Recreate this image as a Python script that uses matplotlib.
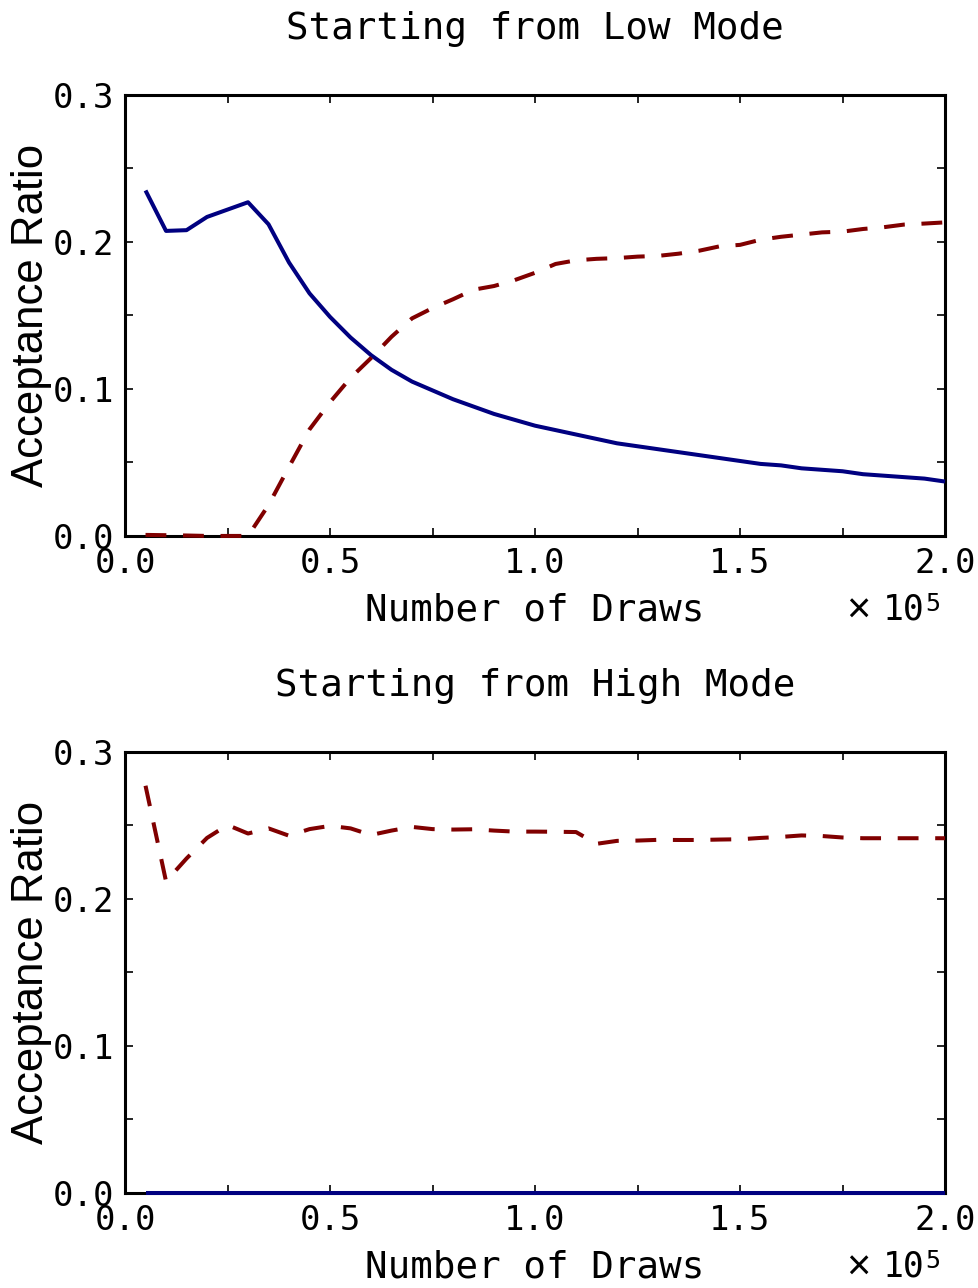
import matplotlib
matplotlib.use("Agg")
import matplotlib.pyplot as plt
from matplotlib.ticker import MultipleLocator, FuncFormatter

plt.rcParams['lines.scale_dashes'] = False

# number of draws
draws = [5000 * i for i in range(1, 41)]

# Starting from Low Mode
low_blue = [0.235, 0.2075, 0.208, 0.217, 0.222, 0.227, 0.212, 0.186, 0.165, 0.149,
            0.135, 0.123, 0.113, 0.105, 0.099, 0.093, 0.088, 0.083, 0.079, 0.075,
            0.072, 0.069, 0.066, 0.063, 0.061, 0.059, 0.057, 0.055, 0.053, 0.051,
            0.049, 0.048, 0.046, 0.045, 0.044, 0.042, 0.041, 0.040, 0.039, 0.037]
low_red = [0.0007, 0.0005, 0.0003, 0.0, 0.0, 0.0, 0.021, 0.047, 0.0725, 0.091,
           0.1075, 0.121, 0.1355, 0.148, 0.155, 0.161, 0.1675, 0.170, 0.174, 0.179,
           0.185, 0.1875, 0.1885, 0.189, 0.190, 0.1905, 0.192, 0.194, 0.197, 0.198,
           0.2015, 0.2035, 0.205, 0.2065, 0.207, 0.2088, 0.210, 0.2118, 0.2125, 0.2133]

# Starting from High Mode
high_blue = [0.0] * 40
high_red = [0.277, 0.212, 0.2275, 0.2415, 0.2503, 0.2445, 0.248, 0.243, 0.2475, 0.2497,
            0.248, 0.2435, 0.2465, 0.249, 0.2475, 0.2472, 0.2474, 0.2465, 0.2458, 0.2458,
            0.2457, 0.2455, 0.2375, 0.2395, 0.2397, 0.2402, 0.2401, 0.2401, 0.2404, 0.2406,
            0.2415, 0.2422, 0.2432, 0.2428, 0.2418, 0.2413, 0.2413, 0.2413, 0.2413, 0.2413]

titles = ["Starting from Low Mode", "Starting from High Mode"]
xlabel = "Number of Draws"
ylabel = "Acceptance Ratio"
scale_times = "×"
scale_text = "10"
scale_exp = "5"

BLUE = '#000080'
RED = '#800000'
MONO = 'DejaVu Sans Mono'
SANS = 'Liberation Sans'

fig = plt.figure(figsize=(9.79, 12.88), dpi=100)
positions = [[0.1277, 0.5839, 0.8376, 0.3424], [0.1277, 0.0738, 0.8376, 0.3424]]
series = [(low_blue, low_red), (high_blue, high_red)]

for pos, (b, r), title in zip(positions, series, titles):
    ax = fig.add_axes(pos)
    ax.plot(draws, b, color=BLUE, lw=2.9, solid_capstyle='butt', clip_on=False, zorder=3)
    ax.plot(draws, r, color=RED, lw=2.9, dashes=(15, 12), clip_on=False, zorder=3)
    ax.set_xlim(0, 200000)
    ax.set_ylim(0, 0.3)
    ax.xaxis.set_major_locator(MultipleLocator(50000))
    ax.xaxis.set_minor_locator(MultipleLocator(25000))
    ax.yaxis.set_major_locator(MultipleLocator(0.1))
    ax.yaxis.set_minor_locator(MultipleLocator(0.05))
    ax.xaxis.set_major_formatter(FuncFormatter(lambda v, p: f"{v/1e5:.1f}"))
    ax.yaxis.set_major_formatter(FuncFormatter(lambda v, p: f"{v:.1f}"))
    ax.tick_params(which='both', direction='in', top=True, right=True,
                   length=6, width=1.2, color='black')
    ax.tick_params(axis='x', which='major', pad=8)
    ax.tick_params(axis='y', which='major', pad=8)
    for lab in ax.get_xticklabels() + ax.get_yticklabels():
        lab.set_fontfamily(MONO)
        lab.set_fontsize(24.5)
    for s in ax.spines.values():
        s.set_linewidth(2.2)
    ax.set_title(title, fontfamily=MONO, fontsize=27, pad=40)
    ax.set_xlabel(xlabel, fontfamily=MONO, fontsize=27, labelpad=9)
    ax.set_ylabel(ylabel, fontfamily=SANS, fontsize=31.5, labelpad=0)
    ax.text(0.8945, -0.172, scale_times, transform=ax.transAxes,
            ha='center', va='center', fontsize=30, fontfamily=SANS)
    ax.text(0.9756, -0.1667, scale_text, transform=ax.transAxes,
            ha='right', va='center', fontsize=25, fontfamily=MONO)
    ax.text(0.9756, -0.154, scale_exp, transform=ax.transAxes,
            ha='left', va='center', fontsize=18, fontfamily=MONO)

fig.savefig("out.png", dpi=100, facecolor='white')
